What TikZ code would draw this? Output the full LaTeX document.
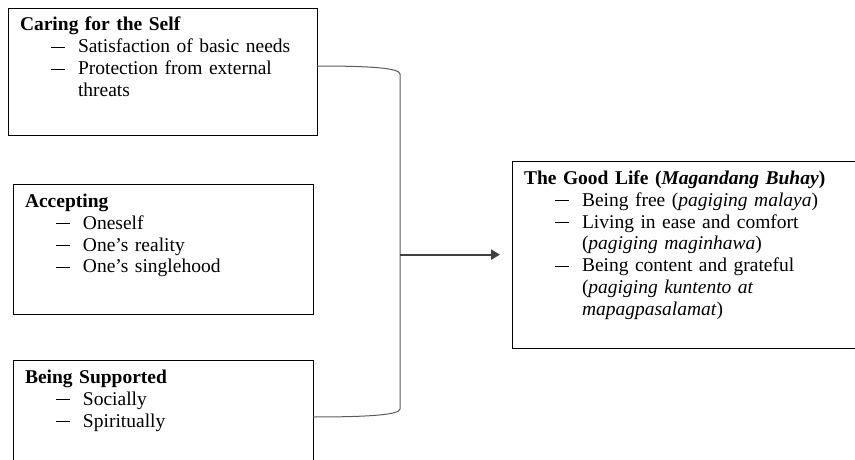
\documentclass[tikz,border=0pt]{standalone}
\usepackage{fontspec}
\setmainfont{Liberation Serif}
\usetikzlibrary{arrows.meta}

\definecolor{linkgray}{HTML}{5A5A5A}
\definecolor{arrowgray}{HTML}{404040}

\newcommand{\itemline}[1]{\hspace*{31pt}\makebox[27pt][l]{\rule[5pt]{14pt}{0.8pt}}#1}
\newcommand{\wrapline}[1]{\hspace*{58pt}#1}
\newcommand{\boxpad}[1]{\\[#1]\strut}

\begin{document}
\begin{tikzpicture}[
  x = 1pt, y = -1pt,
  every node/.style = {inner sep=0pt, outer sep=0pt},
  theme/.style      = {draw, line width=0.8pt, anchor=north west, align=left,
                       inner xsep=12pt, inner ysep=7.6pt,
                       font=\fontsize{19.5}{22}\selectfont},
  link/.style       = {draw=linkgray, line width=1pt},
  lead/.style       = {draw=arrowgray, line width=2.2pt,
                       -{Triangle[length=9pt, width=10pt]}},
]
\useasboundingbox (0,0) rectangle (855,460);
\clip (0,0) rectangle (855,460);

% left column
\node[theme, text width=285pt] (self) at (8,8) {%
  \strut\textbf{Caring for the Self}\\
  \itemline{Satisfaction of basic needs}\\
  \itemline{Protection from external}\\
  \wrapline{threats}\boxpad{1.8pt}};
\node[theme, text width=276pt] (accept) at (13,184) {%
  \strut\textbf{Accepting}\\
  \itemline{Oneself}\\
  \itemline{One’s reality}\\
  \itemline{One’s singlehood}\boxpad{4.8pt}};
\node[theme, text width=276pt] (support) at (13,360) {%
  \strut\textbf{Being Supported}\\
  \itemline{Socially}\\
  \itemline{Spiritually}\boxpad{20pt}};
% right column
\node[theme, text width=380pt] (life) at (512,161) {%
  \strut\textbf{The Good Life (\textit{Magandang Buhay})}\\
  \itemline{Being free (\textit{pagiging malaya})}\\
  \itemline{Living in ease and comfort}\\
  \wrapline{(\textit{pagiging maginhawa})}\\
  \itemline{Being content and grateful}\\
  \wrapline{(\textit{pagiging kuntento at}}\\
  \wrapline{\textit{mapagpasalamat})}\boxpad{-4pt}};

% bracket and arrow
\coordinate (jtop) at (400,74);
\coordinate (jbot) at (400,409);
\path[link] ([yshift=5.5pt]self.east)
    .. controls +(53,0) and +(0,-6) .. (jtop) -- (jbot)
    .. controls +(0,6) and +(53,0) .. ([yshift=-57pt]support.north east);
\draw[lead] (jtop |- life.west) -- ([xshift=-12pt]life.west);

\end{tikzpicture}
\end{document}
